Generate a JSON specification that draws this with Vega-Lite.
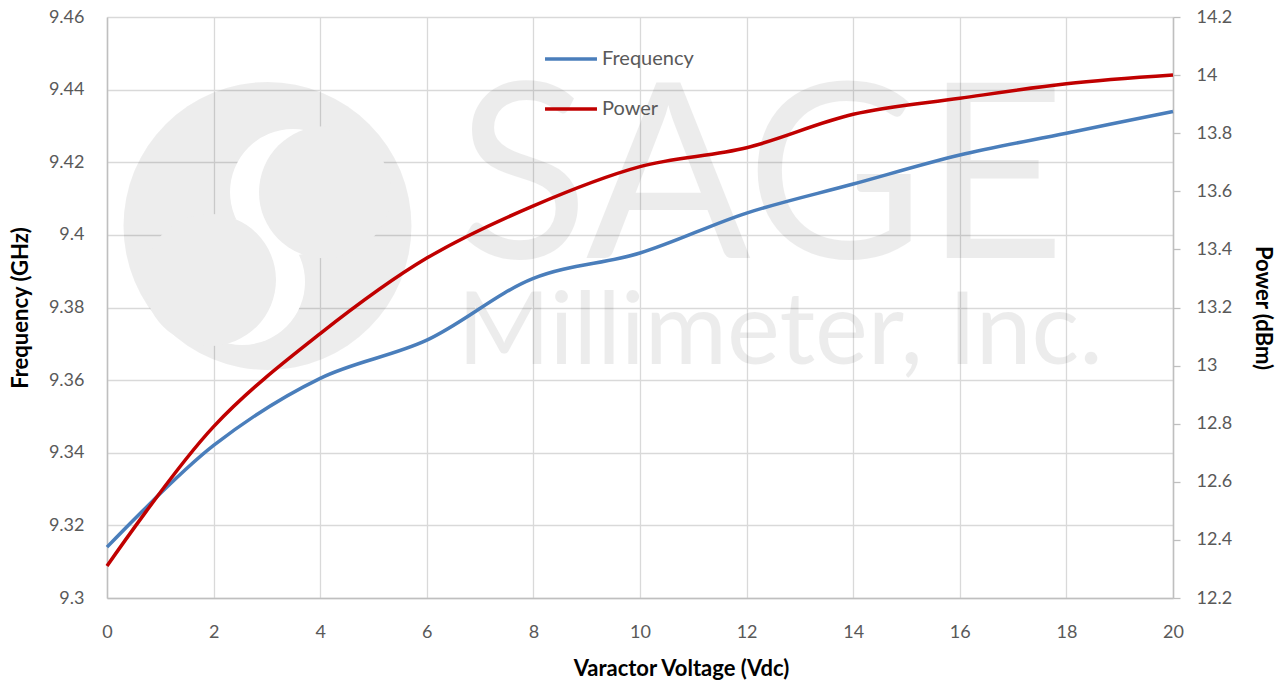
{
  "$schema": "https://vega.github.io/schema/vega-lite/v6.json",
  "width": 1066,
  "height": 581,
  "autosize": {"type": "none"},
  "padding": {"left": 107, "top": 17, "right": 113, "bottom": 86},
  "background": "white",
  "config": {
    "view": {"stroke": null},
    "axis": {
      "labelFont": "Lato",
      "titleFont": "Lato",
      "labelColor": "#595959",
      "titleColor": "#000000",
      "labelFontSize": 18,
      "titleFontSize": 22,
      "titleFontWeight": "bold",
      "labelFlush": false,
      "gridColor": "#d9d9d9",
      "gridWidth": 1.3,
      "domainColor": "#bfbfbf",
      "domainWidth": 1.5,
      "tickColor": "#bfbfbf",
      "tickWidth": 1.3
    }
  },
  "data": {
    "values": [
      {"v": 0, "freq": 9.314, "power": 12.31},
      {"v": 2, "freq": 9.342, "power": 12.79},
      {"v": 4, "freq": 9.3605, "power": 13.11},
      {"v": 6, "freq": 9.371, "power": 13.37},
      {"v": 8, "freq": 9.388, "power": 13.55},
      {"v": 10, "freq": 9.395, "power": 13.685},
      {"v": 12, "freq": 9.406, "power": 13.75},
      {"v": 14, "freq": 9.414, "power": 13.865},
      {"v": 16, "freq": 9.422, "power": 13.92},
      {"v": 18, "freq": 9.428, "power": 13.97},
      {"v": 20, "freq": 9.434, "power": 14.0}
    ]
  },
  "layer": [
    {
      "layer": [
        {
          "data": {"values": [{"item": "logo"}]},
          "mark": {"type": "point", "shape": "circle", "filled": true, "color": "#000000", "opacity": 0.07, "strokeWidth": 0, "size": 82944},
          "encoding": {
            "x": {"datum": 3.011, "type": "quantitative"},
            "y": {"datum": 9.40245, "type": "quantitative"}
          }
        },
        {
          "data": {"values": [{"item": "logo"}]},
          "mark": {"type": "point", "shape": "circle", "filled": true, "color": "#ffffff", "opacity": 1, "strokeWidth": 0, "size": 15876},
          "encoding": {
            "x": {"datum": 3.49, "type": "quantitative"},
            "y": {"datum": 9.41179, "type": "quantitative"}
          }
        },
        {
          "data": {"values": [{"item": "logo"}]},
          "mark": {"type": "point", "shape": "circle", "filled": true, "color": "#ffffff", "opacity": 1, "strokeWidth": 0, "size": 15876},
          "encoding": {
            "x": {"datum": 2.533, "type": "quantitative"},
            "y": {"datum": 9.38703, "type": "quantitative"}
          }
        },
        {
          "data": {"values": [{"item": "logo"}]},
          "mark": {"type": "point", "shape": "circle", "filled": true, "color": "#ededed", "opacity": 1, "strokeWidth": 0, "size": 17424},
          "encoding": {
            "x": {"datum": 4.09, "type": "quantitative"},
            "y": {"datum": 9.41173, "type": "quantitative"}
          }
        },
        {
          "data": {"values": [{"item": "logo"}]},
          "mark": {"type": "point", "shape": "circle", "filled": true, "color": "#ededed", "opacity": 1, "strokeWidth": 0, "size": 17424},
          "encoding": {
            "x": {"datum": 1.932, "type": "quantitative"},
            "y": {"datum": 9.38758, "type": "quantitative"}
          }
        },
        {
          "data": {"values": [{"label": "SAGE"}]},
          "mark": {"type": "text", "font": "Lato", "fontSize": 244, "color": "#000000", "opacity": 0.07, "align": "center", "baseline": "alphabetic"},
          "encoding": {
            "text": {"field": "label"},
            "x": {"datum": 12.27, "type": "quantitative"},
            "y": {"datum": 9.3936, "type": "quantitative"}
          }
        },
        {
          "data": {"values": [{"label": "Millimeter, Inc."}]},
          "mark": {"type": "text", "font": "Lato", "fontSize": 100, "color": "#000000", "opacity": 0.07, "align": "center", "baseline": "alphabetic"},
          "encoding": {
            "text": {"field": "label"},
            "x": {"datum": 12.63, "type": "quantitative"},
            "y": {"datum": 9.3644, "type": "quantitative"}
          }
        },
        {
          "mark": {"type": "line", "strokeWidth": 3.5, "interpolate": "catmull-rom"},
          "encoding": {
            "x": {
              "field": "v",
              "type": "quantitative",
              "scale": {"domain": [0, 20], "nice": false, "zero": false},
              "axis": {
                "values": [0, 2, 4, 6, 8, 10, 12, 14, 16, 18, 20],
                "grid": true,
                "ticks": false,
                "labelPadding": 25,
                "title": "Varactor Voltage (Vdc)",
                "titleX": 574,
                "titleAlign": "center",
                "titlePadding": 17,
                "titleFontSize": 22
              }
            },
            "y": {
              "field": "freq",
              "type": "quantitative",
              "scale": {"domain": [9.3, 9.46], "nice": false, "zero": false},
              "axis": {
                "orient": "left",
                "values": [9.3, 9.32, 9.34, 9.36, 9.38, 9.4, 9.42, 9.44, 9.46],
                "format": ".3~r",
                "grid": true,
                "ticks": false,
                "labelPadding": 23,
                "title": "Frequency (GHz)",
                "titlePadding": 16
              }
            },
            "color": {
              "datum": "Frequency",
              "type": "nominal",
              "scale": {"domain": ["Frequency", "Power"], "range": ["#4a7ebb", "#c00000"]},
              "legend": {
                "title": null,
                "orient": "none",
                "legendX": 436,
                "legendY": 14,
                "symbolType": "stroke",
                "symbolSize": 2700,
                "symbolStrokeWidth": 3.5,
                "labelFont": "Lato",
                "labelFontSize": 20,
                "labelColor": "#595959",
                "labelOffset": 3,
                "rowPadding": 12,
                "padding": 0
              }
            }
          }
        }
      ]
    },
    {
      "mark": {"type": "line", "strokeWidth": 3.5, "interpolate": "catmull-rom"},
      "encoding": {
        "x": {"field": "v", "type": "quantitative", "scale": {"domain": [0, 20], "nice": false, "zero": false}},
        "y": {
          "field": "power",
          "type": "quantitative",
          "scale": {"domain": [12.2, 14.2], "nice": false, "zero": false},
          "axis": {
            "orient": "right",
            "values": [12.2, 12.4, 12.6, 12.8, 13, 13.2, 13.4, 13.6, 13.8, 14, 14.2],
            "format": ".3~r",
            "grid": false,
            "ticks": true,
            "tickSize": 7,
            "labelPadding": 16,
            "title": "Power (dBm)",
            "titlePadding": 19
          }
        },
        "color": {
          "datum": "Power",
          "type": "nominal",
          "scale": {"domain": ["Frequency", "Power"], "range": ["#4a7ebb", "#c00000"]}
        }
      }
    }
  ],
  "resolve": {"scale": {"y": "independent"}}
}
